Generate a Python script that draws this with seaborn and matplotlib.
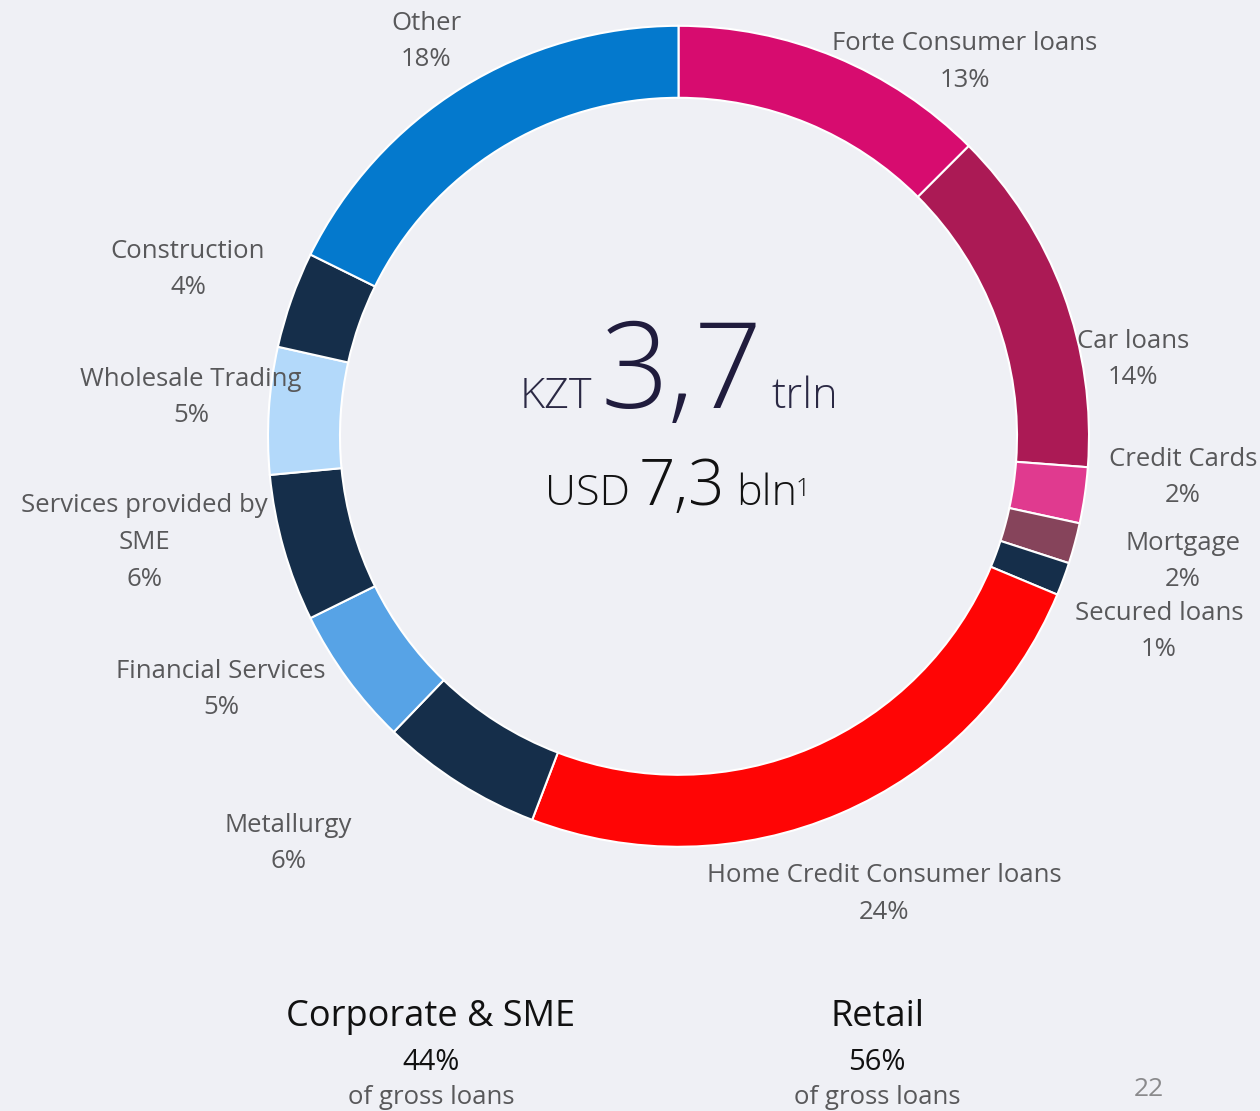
import matplotlib
matplotlib.use("Agg")
import matplotlib.pyplot as plt
import seaborn as sns

# =============================================================================
# Data (shares going clockwise from 12 o'clock)
# =============================================================================
segments = ["Forte Consumer loans", "Car loans", "Credit Cards", "Mortgage",
            "Secured loans", "Home Credit Consumer loans", "Metallurgy",
            "Financial Services", "Services provided by\nSME", "Wholesale Trading",
            "Construction", "Other"]
shares = [12.5, 13.7, 2.2, 1.6, 1.3, 24.5, 6.4, 5.5, 5.8, 5.0, 3.8, 17.7]
share_labels = ["13%", "14%", "2%", "2%", "1%", "24%", "6%", "5%", "6%", "5%", "4%", "18%"]
colors = ["#D70C6F", "#AB1A55", "#E03A8F", "#86445B", "#152E4A", "#FF0505",
          "#152E4A", "#57A3E6", "#152E4A", "#B3D9FA", "#152E4A", "#0479CD"]

groups = ["Corporate & SME", "Retail"]
group_shares = ["44%", "56%"]

W, H = 1260, 1111
BG = "#EFF0F5"
LABEL_GREY = "#58585A"

# label anchor positions in pixels (x, y of first line centre)
label_pos = [(965, 44), (1133, 341), (1183, 459), (1183, 543), (1159, 613),
             (884, 876), (288, 825), (221, 671), (144, 506), (191, 379),
             (188, 251), (426, 23)]
LINE = 36.5

sns.set_theme(style="white", rc={"figure.facecolor": BG, "axes.facecolor": BG})
plt.rcParams["font.family"] = ["Open Sans", "DejaVu Sans"]

fig = plt.figure(figsize=(W / 100, H / 100), dpi=100)
ax = fig.add_axes([0, 0, 1, 1])
ax.set_facecolor(BG)

cx, cy = 678.5, H - 436.3
ax.pie(shares, colors=colors, startangle=90, counterclock=False,
       radius=410.5, center=(cx, cy),
       wedgeprops=dict(width=72, edgecolor="white", linewidth=1.5))
ax.set_xlim(0, W)
ax.set_ylim(0, H)
ax.set_aspect("equal")
ax.axis("off")

# segment labels
for name, pct, (px, py) in zip(segments, share_labels, label_pos):
    lines = name.split("\n") + [pct]
    for i, s in enumerate(lines):
        ax.text(px, H - (py + i * LINE), s, ha="center", va="center",
                fontsize=18.5, color=LABEL_GREY)

# centre text
ax.text(520, H - 408, "KZT", ha="left", va="baseline", fontsize=31,
        color="#2B2944", fontweight="light")
ax.text(601, H - 408, "3,7", ha="left", va="baseline", fontsize=86,
        color="#201C3D", fontweight="light")
ax.text(771, H - 408, "trln", ha="left", va="baseline", fontsize=31,
        color="#2B2944", fontweight="light")
ax.text(545, H - 505, "USD", ha="left", va="baseline", fontsize=31,
        color="#111111", fontweight="light")
ax.text(639, H - 505, "7,3", ha="left", va="baseline", fontsize=46,
        color="#111111", fontweight="light")
ax.text(736, H - 505, "bln", ha="left", va="baseline", fontsize=31,
        color="#111111", fontweight="light")
ax.text(796, H - 477, "1", ha="left", va="top", fontsize=18,
        color="#111111", fontweight="light")

# bottom group summary
for gx, g, gp in zip([431, 877], groups, group_shares):
    ax.text(gx, H - 1017, g, ha="center", va="center", fontsize=26, color="#111111")
    ax.text(gx, H - 1062, gp, ha="center", va="center", fontsize=21, color="#111111")
    ax.text(gx, H - 1098, "of gross loans", ha="center", va="center",
            fontsize=18.5, color=LABEL_GREY)

ax.text(1149, H - 1090, "22", ha="center", va="center", fontsize=19, color="#8A8A8C")

plt.savefig("out.png", dpi=100, facecolor=BG)
